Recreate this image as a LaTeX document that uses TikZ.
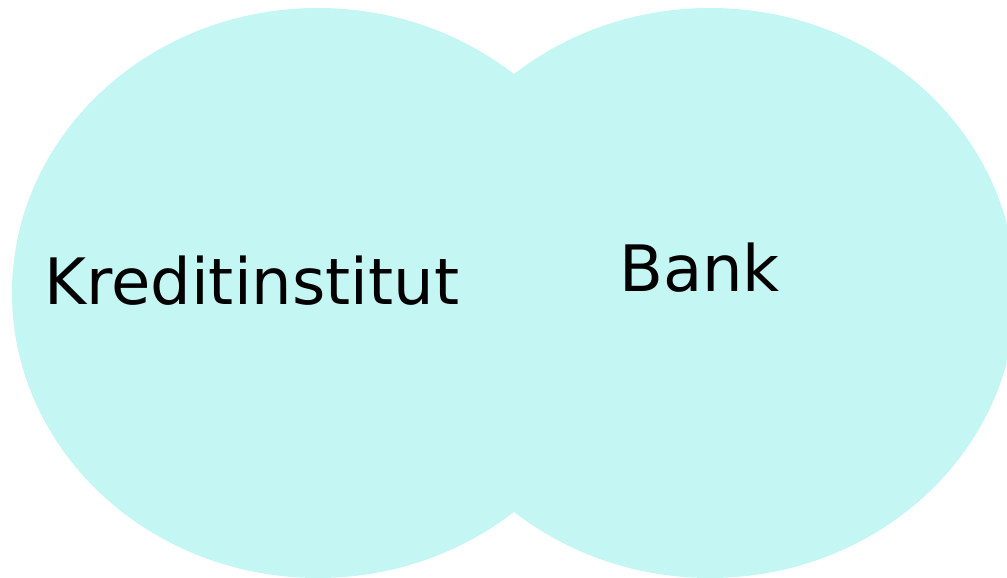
\documentclass[tikz,border=0pt]{standalone}
\usepackage{fontspec}
\setmainfont{DejaVu Sans}
\definecolor{blobcyan}{HTML}{C4F6F3}
\begin{document}
\begin{tikzpicture}[x=1pt,y=1pt,
  blob/.style={fill=blobcyan,draw=none},
  lbl/.style={font=\fontsize{64}{70}\selectfont,inner sep=0pt,anchor=base west}]
\useasboundingbox (0,0) rectangle (1007,578);
\fill[blobcyan] (318,285) ellipse [x radius=306, y radius=285];
\fill[blobcyan] (710,285) ellipse [x radius=306, y radius=285];
\node[lbl] (kredit) at (44,273) {Kreditinstitut};
\node[lbl] (bank) at (619,286) {Bank};
\end{tikzpicture}
\end{document}
